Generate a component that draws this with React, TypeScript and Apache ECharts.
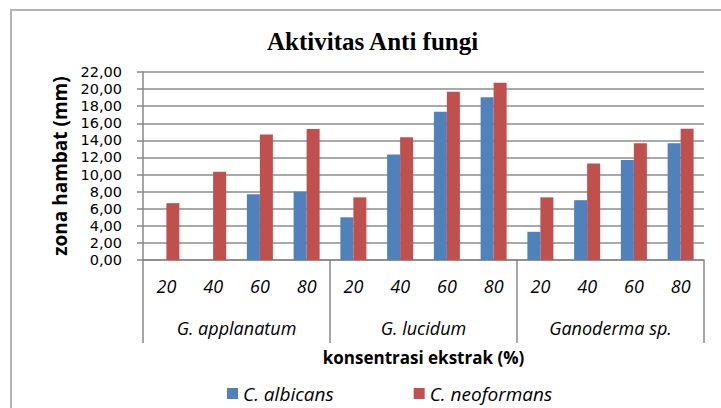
import React, { useEffect, useRef } from "react";
import * as echarts from "echarts";

const concentrations = ["20", "40", "60", "80", "20", "40", "60", "80", "20", "40", "60", "80"];
const species = ["G. applanatum", "G. lucidum", "Ganoderma sp."];
const albicans = [0, 0, 7.7, 8.0, 5.0, 12.35, 17.35, 19.05, 3.3, 7.0, 11.7, 13.65];
const neoformans = [6.65, 10.33, 14.7, 15.33, 7.33, 14.35, 19.7, 20.75, 7.33, 11.3, 13.65, 15.35];
const seriesNames = ["C. albicans", "C. neoformans"];

const SANS = "'Open Sans', 'Noto Sans', sans-serif";

export default function App() {
  const ref = useRef<HTMLDivElement>(null);
  useEffect(() => {
    if (!ref.current) return;
    const chart = echarts.init(ref.current, null, { renderer: "svg" });
    chart.setOption({
      animation: false,
      backgroundColor: "#ffffff",
      title: {
        text: "Aktivitas Anti fungi",
        left: 262,
        top: 24,
        textStyle: { fontFamily: "'Liberation Serif', serif", fontWeight: "bold", fontSize: 25, color: "#000" },
      },
      graphic: [
        {
          type: "rect",
          shape: { x: 11, y: 10, width: 800, height: 500 },
          style: { fill: "none", stroke: "#b4b4b4", lineWidth: 2 },
          silent: true,
        },
      ],
      legend: {
        data: seriesNames,
        left: 222,
        top: 379,
        icon: "rect",
        itemWidth: 11,
        itemHeight: 11,
        itemGap: 80,
        textStyle: { fontFamily: SANS, fontStyle: "italic", fontSize: 19, color: "#000" },
      },
      grid: { left: 143, right: 17, top: 72, bottom: 148 },
      xAxis: [
        {
          type: "category",
          data: concentrations,
          position: "bottom",
          axisLine: { show: true, lineStyle: { color: "#888", width: 1.5 } },
          axisTick: { show: false },
          axisLabel: { margin: 17, fontFamily: SANS, fontStyle: "italic", fontSize: 18, color: "#000", interval: 0 },
        },
        {
          type: "category",
          data: species,
          position: "bottom",
          axisLine: { show: false },
          axisTick: { show: true, length: 83, lineStyle: { color: "#888", width: 1.5 } },
          axisLabel: { margin: 59, fontFamily: SANS, fontStyle: "italic", fontSize: 18, color: "#000", interval: 0 },
          name: "konsentrasi ekstrak (%)",
          nameLocation: "middle",
          nameGap: 89,
          nameTextStyle: { fontFamily: SANS, fontWeight: "bold", fontSize: 17, color: "#000" },
        },
      ],
      yAxis: {
        type: "value",
        min: 0,
        max: 22,
        interval: 2,
        name: "zona hambat (mm)",
        nameLocation: "middle",
        nameGap: 53,
        nameTextStyle: { fontFamily: SANS, fontWeight: "bold", fontSize: 19, color: "#000" },
        axisLine: { show: true, lineStyle: { color: "#888", width: 1.5 } },
        axisTick: { show: true, length: 6, lineStyle: { color: "#888", width: 1.5 } },
        axisLabel: {
          margin: 21,
          fontFamily: "'DejaVu Sans', sans-serif",
          fontSize: 14.5,
          lineHeight: 15,
          color: "#000",
          showMinLabel: true,
          showMaxLabel: true,
          hideOverlap: false,
          formatter: (v: number) => v.toFixed(2).replace(".", ","),
        },
        splitLine: { show: true, lineStyle: { color: "#8c8c8c", width: 1.5 } },
      },
      series: [
        {
          name: seriesNames[0],
          type: "bar",
          data: albicans,
          barWidth: 13,
          barGap: "0%",
          itemStyle: { color: "#4F81BD" },
        },
        {
          name: seriesNames[1],
          type: "bar",
          data: neoformans,
          barWidth: 13,
          barGap: "0%",
          itemStyle: { color: "#C0504D" },
        },
      ],
    });
    return () => chart.dispose();
  }, []);
  return <div ref={ref} style={{ position: "absolute", left: 0, top: 0, width: 721, height: 408 }} />;
}
